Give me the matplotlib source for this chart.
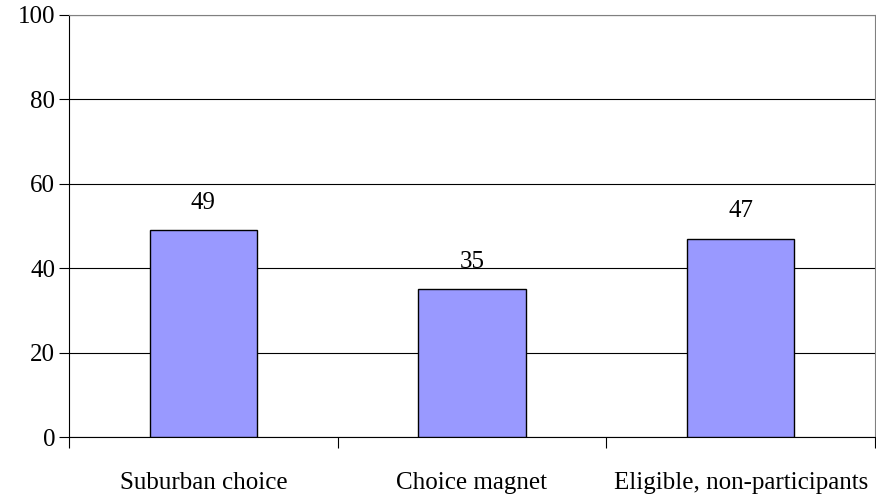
import matplotlib
matplotlib.use("Agg")
import matplotlib.pyplot as plt
import numpy as np

# bar chart values, percent
categories = ["Suburban choice", "Choice magnet", "Eligible, non-participants"]
values = [49, 35, 47]
yticks = [0, 20, 40, 60, 80, 100]

plt.rcParams['font.family'] = ['Liberation Serif', 'DejaVu Serif']

fig = plt.figure(figsize=(8.76, 5.01), dpi=100)
ax = fig.add_axes([69 / 876, 64 / 501, 806 / 876, 422 / 501])

x = np.arange(len(categories))
bars = ax.bar(x, values, width=0.4, color="#9999FF", edgecolor="black", linewidth=1.0, zorder=3)

for b, v in zip(bars, values):
    ax.annotate(str(v), (b.get_x() + b.get_width() / 2, v), xytext=(0, 12),
                textcoords="offset points", ha="center", va="bottom", fontsize=18)

ax.set_xlim(-0.5, len(categories) - 0.5)
ax.set_ylim(0, 100)
ax.set_yticks(yticks)
ax.set_yticklabels([str(t) for t in yticks], fontsize=18)
ax.yaxis.grid(True, color="black", linewidth=0.8, zorder=0)

# category labels between the boundary ticks
ax.set_xticks(x)
ax.set_xticklabels(categories, fontsize=18)
ax.tick_params(axis="x", length=0, pad=25)
ax.set_xticks(np.arange(len(categories) + 1) - 0.5, minor=True)
ax.tick_params(axis="x", which="minor", length=8, width=0.8, direction="out")
ax.tick_params(axis="y", length=7, width=0.8, direction="out", pad=3)

for s in ["left", "bottom"]:
    ax.spines[s].set_color("black")
    ax.spines[s].set_linewidth(0.8)
for s in ["top", "right"]:
    ax.spines[s].set_color("#808080")
    ax.spines[s].set_linewidth(0.8)

fig.savefig("out.png", dpi=100)
